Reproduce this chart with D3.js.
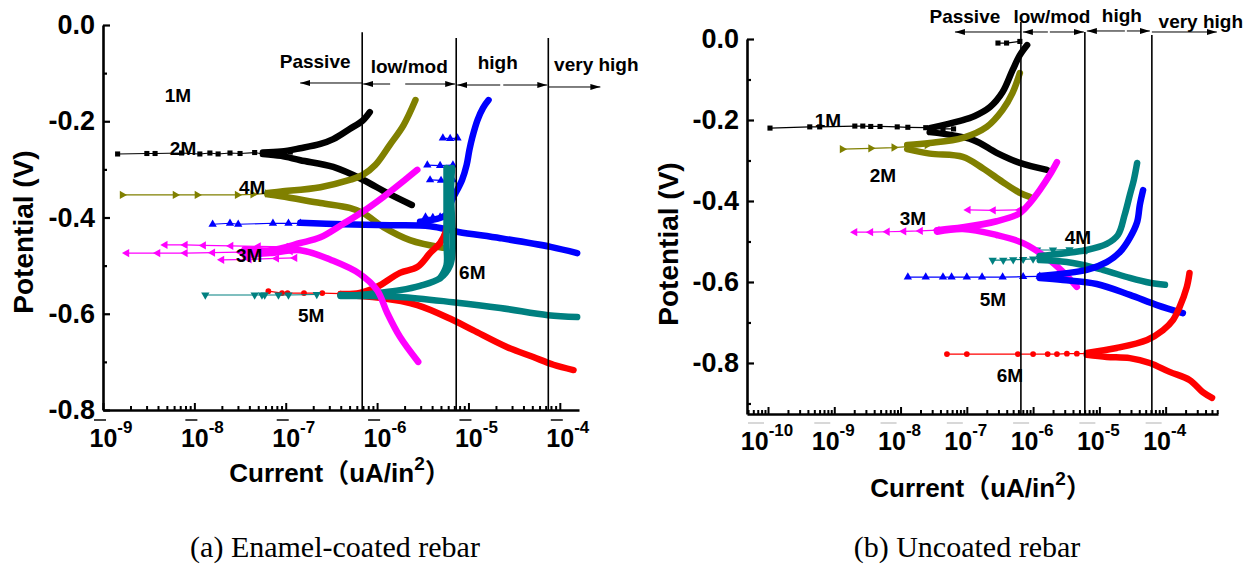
<!DOCTYPE html>
<html><head><meta charset="utf-8">
<script src="https://cdn.jsdelivr.net/npm/d3@7"></script>
<style>
html,body{margin:0;padding:0;background:#fff;}
svg{display:block;}
.sans{font-family:"Liberation Sans",Arial,"Noto Sans CJK SC",sans-serif;font-weight:bold;}
.serif{font-family:"Liberation Serif","Times New Roman",serif;}
</style></head><body>
<svg id="chart" width="1252" height="569"></svg>
<script>
// ---------- tick data ----------
const aTicksX = [-9,-8,-7,-6,-5,-4];          // decades (log10 current) panel a
const bTicksX = [-10,-9,-8,-7,-6,-5,-4];      // decades panel b
const yMajor = [0,-0.2,-0.4,-0.6,-0.8];
const yTickLabels = ["0.0","-0.2","-0.4","-0.6","-0.8"];
const yMinorA = [-0.1,-0.3,-0.5,-0.7];
const yMinorB = [-0.1,-0.3,-0.5,-0.7,-0.9];
const xTitleMain = "Current（uA/in";
const xTitleSup = "2";
const yTitle = "Potential (V)";
const captions = ["(a) Enamel-coated rebar","(b) Uncoated rebar"];

// ---------- series data: [log10 current (uA/in2), potential V] ----------
// Panel (a) enamel-coated
const aBlackSparse = [[-8.84,-0.268],[-8.52,-0.267],[-8.43,-0.267],[-8.14,-0.266],[-7.94,-0.268],[-7.83,-0.266],[-7.74,-0.268],[-7.61,-0.266],[-7.50,-0.267],[-7.34,-0.265],[-7.25,-0.268],[-7.17,-0.264],[-7.06,-0.266],[-6.95,-0.264]];
const aBlackAnodic = [[-7.25,-0.265],[-7.05,-0.263],[-6.84,-0.256],[-6.62,-0.247],[-6.48,-0.237],[-6.30,-0.216],[-6.16,-0.199],[-6.08,-0.181]];
const aBlackCathodic = [[-7.25,-0.268],[-7.05,-0.272],[-6.84,-0.281],[-6.48,-0.295],[-6.15,-0.322],[-5.89,-0.349],[-5.62,-0.374]];

const aOliveSparse = [[-8.79,-0.353],[-8.21,-0.353],[-7.97,-0.353],[-7.53,-0.353],[-7.36,-0.352],[-7.20,-0.350],[-7.05,-0.350]];
const aOliveAnodic = [[-7.20,-0.349],[-7.05,-0.346],[-6.62,-0.337],[-6.30,-0.322],[-6.16,-0.312],[-6.02,-0.291],[-5.86,-0.249],[-5.71,-0.208],[-5.58,-0.156]];
const aOliveCathodic = [[-7.20,-0.352],[-7.05,-0.356],[-6.62,-0.370],[-6.30,-0.380],[-6.15,-0.391],[-5.93,-0.420],[-5.64,-0.447],[-5.28,-0.463]];

const aBlueSparse = [[-7.80,-0.414],[-7.61,-0.412],[-7.52,-0.414],[-7.14,-0.412],[-6.97,-0.412],[-6.84,-0.412]];
const aBlueCathodic = [[-6.84,-0.411],[-6.37,-0.414],[-5.86,-0.416],[-5.42,-0.418],[-5.11,-0.430],[-4.65,-0.443],[-4.10,-0.461],[-3.81,-0.474]];
const aBlueAnodic = [[-5.53,-0.409],[-5.25,-0.395],[-5.18,-0.364],[-5.07,-0.322],[-5.02,-0.291],[-4.99,-0.260],[-4.96,-0.235],[-4.90,-0.197],[-4.84,-0.172],[-4.78,-0.156]];
const aBlueStreak1 = [[-5.28,-0.235],[-5.20,-0.236],[-5.12,-0.235]];
const aBlueStreak2 = [[-5.45,-0.291],[-5.31,-0.292],[-5.17,-0.291]];
const aBlueStreak3 = [[-5.42,-0.322],[-5.30,-0.323],[-5.17,-0.322]];
const aBlueStreak4 = [[-5.47,-0.399],[-5.39,-0.400],[-5.31,-0.399]];

const aMagentaSparse1 = [[-8.74,-0.474],[-8.40,-0.474],[-8.10,-0.474],[-7.80,-0.473],[-7.50,-0.472],[-7.20,-0.471],[-6.95,-0.470]];
const aMagentaSparse2 = [[-8.32,-0.457],[-8.10,-0.457],[-7.90,-0.458],[-7.60,-0.459],[-7.30,-0.460],[-7.00,-0.461]];
const aMagentaSparse3 = [[-7.70,-0.488],[-7.40,-0.487],[-7.10,-0.485],[-6.90,-0.484]];
const aMagentaAnodic = [[-7.45,-0.466],[-7.17,-0.468],[-6.84,-0.453],[-6.62,-0.441],[-6.37,-0.413],[-6.15,-0.387],[-5.93,-0.357],[-5.67,-0.318],[-5.56,-0.301]];
const aMagentaCathodic = [[-7.45,-0.478],[-7.17,-0.474],[-6.84,-0.468],[-6.48,-0.490],[-6.19,-0.517],[-6.00,-0.551],[-5.89,-0.598],[-5.75,-0.648],[-5.55,-0.700]];

const aRedSparse = [[-7.19,-0.553],[-7.04,-0.557],[-6.98,-0.557],[-6.80,-0.557],[-6.60,-0.557],[-6.40,-0.558]];
const aRedAnodic = [[-6.40,-0.559],[-6.19,-0.557],[-6.00,-0.544],[-5.75,-0.515],[-5.56,-0.503],[-5.42,-0.474],[-5.31,-0.453],[-5.25,-0.430],[-5.23,-0.409]];
const aRedCathodic = [[-6.40,-0.561],[-5.97,-0.567],[-5.56,-0.582],[-5.17,-0.613],[-4.95,-0.634],[-4.58,-0.669],[-4.29,-0.690],[-4.07,-0.706],[-3.85,-0.717]];

const aTealSparse = [[-7.88,-0.561],[-7.34,-0.561],[-7.26,-0.561],[-7.23,-0.561],[-7.08,-0.561],[-6.97,-0.561],[-6.66,-0.560]];
const aTealAnodic = [[-6.40,-0.561],[-6.19,-0.561],[-6.00,-0.557],[-5.75,-0.551],[-5.53,-0.542],[-5.31,-0.526],[-5.20,-0.499],[-5.17,-0.457],[-5.18,-0.405],[-5.19,-0.343],[-5.18,-0.297]];
const aTealAnodic2 = [[-5.31,-0.526],[-5.24,-0.499],[-5.24,-0.457],[-5.24,-0.405],[-5.24,-0.343],[-5.24,-0.297]];
const aTealCathodic = [[-6.40,-0.563],[-6.19,-0.563],[-5.75,-0.565],[-5.17,-0.576],[-4.65,-0.588],[-4.13,-0.603],[-3.81,-0.607]];

// Panel (b) uncoated
const bBlackSparse = [[-9.97,-0.220],[-9.37,-0.217],[-9.22,-0.217],[-8.69,-0.215],[-8.57,-0.215],[-8.45,-0.216],[-8.31,-0.216],[-8.05,-0.217],[-7.89,-0.218],[-7.62,-0.219],[-7.36,-0.222],[-7.20,-0.222]];
const bBlackTop = [[-6.53,-0.010],[-6.40,-0.010],[-6.20,-0.006]];
const bBlackAnodic = [[-7.56,-0.220],[-7.10,-0.202],[-6.88,-0.190],[-6.65,-0.168],[-6.46,-0.131],[-6.31,-0.077],[-6.20,-0.040],[-6.09,-0.015]];
const bBlackCathodic = [[-7.56,-0.230],[-6.91,-0.249],[-6.55,-0.281],[-6.20,-0.306],[-5.79,-0.323]];

const bOliveSparse = [[-8.88,-0.272],[-8.45,-0.270],[-8.10,-0.268],[-7.85,-0.265],[-7.60,-0.262]];
const bOliveAnodic = [[-7.90,-0.262],[-7.56,-0.257],[-7.06,-0.244],[-6.70,-0.217],[-6.46,-0.175],[-6.31,-0.133],[-6.20,-0.084]];
const bOliveCathodic = [[-7.90,-0.272],[-7.56,-0.283],[-7.06,-0.291],[-6.76,-0.319],[-6.46,-0.353],[-6.20,-0.380],[-6.05,-0.390]];

const bMagentaSparse = [[-8.69,-0.477],[-8.45,-0.477],[-8.20,-0.476],[-7.95,-0.475],[-7.70,-0.474],[-7.45,-0.472]];
const bMagentaStreak = [[-6.98,-0.422],[-6.60,-0.423],[-6.20,-0.422]];
const bMagentaAnodic = [[-7.45,-0.472],[-7.06,-0.465],[-6.55,-0.450],[-6.20,-0.430],[-6.05,-0.405],[-5.90,-0.373],[-5.75,-0.336],[-5.64,-0.304]];
const bMagentaCathodic = [[-7.45,-0.476],[-7.06,-0.469],[-6.55,-0.484],[-6.15,-0.504],[-5.79,-0.541],[-5.55,-0.575],[-5.34,-0.612]];

const bTealSparse = [[-6.61,-0.546],[-6.45,-0.546],[-6.30,-0.545],[-6.15,-0.544],[-6.00,-0.543],[-5.90,-0.541]];
const bTealStreak = [[-5.94,-0.521],[-5.70,-0.521],[-5.45,-0.520],[-5.19,-0.521]];
const bTealAnodic = [[-5.90,-0.536],[-5.19,-0.521],[-4.89,-0.506],[-4.72,-0.484],[-4.62,-0.435],[-4.54,-0.385],[-4.48,-0.348],[-4.43,-0.306]];
const bTealCathodic = [[-5.90,-0.546],[-5.40,-0.553],[-4.95,-0.570],[-4.54,-0.590],[-4.24,-0.602],[-4.01,-0.607]];

const bBlueSparse = [[-7.89,-0.588],[-7.62,-0.588],[-7.36,-0.588],[-7.23,-0.588],[-7.00,-0.588],[-6.77,-0.588],[-6.46,-0.588],[-6.15,-0.587],[-5.90,-0.586]];
const bBlueAnodic = [[-5.90,-0.585],[-5.19,-0.570],[-4.89,-0.551],[-4.69,-0.526],[-4.54,-0.491],[-4.43,-0.452],[-4.39,-0.410],[-4.34,-0.373]];
const bBlueCathodic = [[-5.90,-0.590],[-5.55,-0.595],[-5.04,-0.605],[-4.54,-0.632],[-4.13,-0.657],[-3.74,-0.677]];

const bRedSparse = [[-7.30,-0.778],[-7.00,-0.778],[-6.23,-0.778],[-6.00,-0.778],[-5.78,-0.778],[-5.64,-0.778],[-5.49,-0.777],[-5.34,-0.777],[-5.19,-0.777]];
const bRedAnodic = [[-5.19,-0.775],[-4.74,-0.763],[-4.28,-0.743],[-4.04,-0.719],[-3.89,-0.694],[-3.79,-0.662],[-3.68,-0.612],[-3.64,-0.578]];
const bRedCathodic = [[-5.19,-0.780],[-4.89,-0.785],[-4.54,-0.788],[-4.24,-0.800],[-3.94,-0.822],[-3.64,-0.842],[-3.44,-0.872],[-3.30,-0.886]];

// ---------- annotations (data units) ----------
const zoneNames = ["Passive","low/mod","high","very high"];
const aZoneLines = [-6.163,-5.134,-4.126];
const aZoneTops = [-0.015,-0.027,-0.027];
const aZoneLabelX = [-6.678,-5.648,-4.679,-3.600];
const aZoneLabelV = [-0.089,-0.100,-0.091,-0.096];
const aArrows = [[-6.163,-6.842,-0.1205],[-5.857,-6.152,-0.1226],[-5.692,-5.145,-0.1226],[-4.652,-5.123,-0.1247],[-4.619,-4.137,-0.1247],[-4.126,-3.556,-0.1288]];
const bZoneLines = [-6.184,-5.219,-4.208];
const bZoneTops = [0.042,0.017,0.010];
const bZoneLabelX = [-7.029,-5.716,-4.661,-3.469];
const bZoneLabelV = [0.0395,0.0395,0.042,0.027];
const bArrows = [[-6.184,-7.179,0.0173],[-5.777,-6.154,0.0173],[-5.747,-5.234,0.0173],[-4.615,-5.189,0.0198],[-4.585,-4.238,0.0198],[-4.208,-3.228,0.0173]];

const aLabels = ["1M","2M","4M","3M","5M","6M"];
const aLabelX = [-8.179,-8.124,-7.368,-7.401,-6.722,-4.958];
const aLabelV = [-0.1455,-0.2556,-0.3366,-0.4779,-0.6026,-0.5132];
const bLabels = ["1M","2M","3M","4M","5M","6M"];
const bLabelX = [-9.095,-8.265,-7.813,-5.324,-6.606,-6.350];
const bLabelV = [-0.200,-0.336,-0.444,-0.489,-0.644,-0.830];

// ---------- drawing ----------
const svg = d3.select('#chart');
svg.append('rect').attr('width',1252).attr('height',569).attr('fill','#fff');
svg.append('defs').append('marker').attr('id','ah')
  .attr('viewBox','0 0 10 6').attr('refX',10).attr('refY',3)
  .attr('markerWidth',10).attr('markerHeight',6).attr('markerUnits','userSpaceOnUse')
  .attr('orient','auto').append('path').attr('d','M0,0L10,3L0,6Z').attr('fill','#000');

const SYM = {
  square:{t:d3.symbolSquare,r:0,s:26}, up:{t:d3.symbolTriangle,r:0,s:30}, down:{t:d3.symbolTriangle,r:180,s:30},
  right:{t:d3.symbolTriangle,r:90,s:30}, left:{t:d3.symbolTriangle,r:-90,s:30}, circle:{t:d3.symbolCircle,r:0,s:26}
};

const panels = [
  {xDomain:[-9,-3.79], xRange:[103,579], yDomain:[0,-0.8], yRange:[25,410], yMinor:yMinorA, xTicks:aTicksX,
   xLabelShift:8, xLabelBase:447, artifact:'#444',
   yTitleX:33, yTitleY:232, xTitleX:340, xTitleY:482, capX:335,
   zoneLines:aZoneLines, zoneTops:aZoneTops, zoneLX:aZoneLabelX, zoneLV:aZoneLabelV, arrows:aArrows,
   labels:aLabels, labelX:aLabelX, labelV:aLabelV, caption:captions[0],
   series:[
     {c:'#000000', sym:'square', sparse:[aBlackSparse], dense:[aBlackAnodic,aBlackCathodic]},
     {c:'#808000', sym:'right', sparse:[aOliveSparse], dense:[aOliveAnodic,aOliveCathodic]},
     {c:'#0000ff', sym:'up', sparse:[aBlueSparse,aBlueStreak1,aBlueStreak2,aBlueStreak3,aBlueStreak4], dense:[aBlueCathodic,aBlueAnodic]},
     {c:'#ff0000', sym:'circle', sparse:[aRedSparse], dense:[aRedAnodic,aRedCathodic]},
     {c:'#008080', sym:'down', sparse:[aTealSparse], dense:[aTealAnodic,aTealAnodic2,aTealCathodic]},
     {c:'#ff00ff', sym:'left', sparse:[aMagentaSparse1,aMagentaSparse2,aMagentaSparse3], dense:[aMagentaAnodic,aMagentaCathodic]}
   ]},
  {xDomain:[-10.317,-3.21], xRange:[747,1218], yDomain:[0,-0.926], yRange:[39,414], yMinor:yMinorB, xTicks:bTicksX,
   xLabelShift:-1, xLabelBase:450, artifact:'#d8d8d8',
   yTitleX:678, yTitleY:244, xTitleX:981, xTitleY:497, capX:967,
   zoneLines:bZoneLines, zoneTops:bZoneTops, zoneLX:bZoneLabelX, zoneLV:bZoneLabelV, arrows:bArrows,
   labels:bLabels, labelX:bLabelX, labelV:bLabelV, caption:captions[1],
   series:[
     {c:'#000000', sym:'square', sparse:[bBlackSparse,bBlackTop], dense:[bBlackAnodic,bBlackCathodic]},
     {c:'#808000', sym:'right', sparse:[bOliveSparse], dense:[bOliveAnodic,bOliveCathodic]},
     {c:'#ff00ff', sym:'left', sparse:[bMagentaSparse,bMagentaStreak], dense:[bMagentaAnodic,bMagentaCathodic]},
     {c:'#008080', sym:'down', sparse:[bTealSparse,bTealStreak], dense:[bTealAnodic,bTealCathodic]},
     {c:'#0000ff', sym:'up', sparse:[bBlueSparse], dense:[bBlueAnodic,bBlueCathodic]},
     {c:'#ff0000', sym:'circle', sparse:[bRedSparse], dense:[bRedAnodic,bRedCathodic]}
   ]}
];

panels.forEach(p => {
  const x = d3.scaleLog().domain([Math.pow(10,p.xDomain[0]), Math.pow(10,p.xDomain[1])]).range(p.xRange);
  const y = d3.scaleLinear().domain(p.yDomain).range(p.yRange);
  const X = e => x(Math.pow(10,e));
  const g = svg.append('g');
  const thin = d3.line().x(d=>X(d[0])).y(d=>y(d[1]));
  const thick = d3.line().x(d=>X(d[0])).y(d=>y(d[1])).curve(d3.curveCatmullRom.alpha(0.5));

  // sparse lead-in segments with markers
  p.series.forEach(s => {
    const sy = SYM[s.sym];
    s.sparse.forEach(arr => {
      g.append('path').attr('d', thin(arr)).attr('fill','none').attr('stroke', s.c).attr('stroke-width',1.2);
      g.selectAll(null).data(arr).enter().append('path')
        .attr('d', d3.symbol(sy.t, sy.s)())
        .attr('transform', d => `translate(${X(d[0])},${y(d[1])}) rotate(${sy.r})`)
        .attr('fill', s.c);
    });
  });
  // dense marker bands
  p.series.forEach(s => {
    s.dense.forEach(arr => {
      g.append('path').attr('d', thick(arr)).attr('fill','none').attr('stroke', s.c)
        .attr('stroke-width',6.5).attr('stroke-linecap','round').attr('stroke-linejoin','round');
    });
  });

  // zone lines
  p.zoneLines.forEach((e,i) => {
    g.append('line').attr('x1',X(e)).attr('x2',X(e)).attr('y1',y(p.zoneTops[i])).attr('y2',y(p.yDomain[1]))
      .attr('stroke','#000').attr('stroke-width',1.6);
  });
  // arrows
  p.arrows.forEach(a => {
    g.append('line').attr('x1',X(a[0])).attr('x2',X(a[1])).attr('y1',y(a[2])).attr('y2',y(a[2]))
      .attr('stroke','#000').attr('stroke-width',1).attr('marker-end','url(#ah)');
  });
  // zone labels
  zoneNames.forEach((n,i) => {
    g.append('text').attr('class','sans').attr('x',X(p.zoneLX[i])).attr('y',y(p.zoneLV[i]))
      .attr('text-anchor','middle').attr('font-size',19).text(n);
  });
  // series labels
  p.labels.forEach((n,i) => {
    g.append('text').attr('class','sans').attr('x',X(p.labelX[i])).attr('y',y(p.labelV[i]))
      .attr('dy','0.35em').attr('text-anchor','middle').attr('font-size',19).text(n);
  });

  // y axis
  const ya = g.append('g').attr('transform',`translate(${p.xRange[0]},0)`)
    .call(d3.axisLeft(y).tickValues(yMajor).tickSize(-7).tickSizeOuter(0).tickPadding(8).tickFormat((d,i)=>yTickLabels[i]));
  ya.select('.domain').attr('stroke-width',2.6);
  ya.selectAll('.tick line').attr('stroke-width',2.2);
  ya.selectAll('text').attr('class','sans').attr('font-size',27).attr('fill','#000');
  const ym = g.append('g').attr('transform',`translate(${p.xRange[0]},0)`)
    .call(d3.axisLeft(y).tickValues(p.yMinor).tickSize(-4).tickSizeOuter(0).tickFormat(''));
  ym.select('.domain').remove();
  ym.selectAll('.tick line').attr('stroke-width',2.2);

  // x axis
  const xa = g.append('g').attr('transform',`translate(0,${p.yRange[1]})`)
    .call(d3.axisBottom(x).tickValues(p.xTicks.map(e=>Math.pow(10,e))).tickSize(-7).tickSizeOuter(0).tickFormat(''));
  xa.select('.domain').attr('stroke-width',2.6);
  xa.selectAll('.tick line').attr('stroke-width',2);
  const minor = [];
  for (let e = Math.floor(p.xDomain[0]); e < Math.ceil(p.xDomain[1]); e++) {
    for (let k = 2; k <= 9; k++) {
      const v = k*Math.pow(10,e);
      if (Math.log10(v) > p.xDomain[0] && Math.log10(v) < p.xDomain[1]) minor.push(v);
    }
  }
  const xm = g.append('g').attr('transform',`translate(0,${p.yRange[1]})`)
    .call(d3.axisBottom(x).tickValues(minor).tickSize(-4).tickSizeOuter(0).tickFormat(''));
  xm.select('.domain').remove();
  xm.selectAll('.tick line').attr('stroke-width',2);

  // x tick labels 10^n
  p.xTicks.forEach(e => {
    const cx = X(e);
    g.append('line').attr('x1',cx - (p.xLabelShift>0?9:20)).attr('x2',cx - (p.xLabelShift>0?-3:4))
      .attr('y1',p.xLabelBase-27).attr('y2',p.xLabelBase-27).attr('stroke',p.artifact).attr('stroke-width',2);
    const t = g.append('text').attr('class','sans').attr('x',cx + p.xLabelShift).attr('y',p.xLabelBase)
      .attr('text-anchor','middle').attr('font-size',25);
    t.append('tspan').text('10');
    t.append('tspan').attr('dy',-14).attr('font-size',17).text(String(e));
  });

  // axis titles
  g.append('text').attr('class','sans').attr('font-size',28).attr('text-anchor','middle')
    .attr('transform',`translate(${p.yTitleX},${p.yTitleY}) rotate(-90)`).text(yTitle);
  const xt = g.append('text').attr('class','sans').attr('font-size',26).attr('text-anchor','middle')
    .attr('x',p.xTitleX).attr('y',p.xTitleY);
  xt.append('tspan').text(xTitleMain);
  xt.append('tspan').attr('dy',-12).attr('font-size',19).text(xTitleSup);
  xt.append('tspan').attr('dy',12).text('）');

  // caption
  g.append('text').attr('class','serif').attr('font-size',30).attr('text-anchor','middle')
    .attr('x',p.capX).attr('y',557).text(p.caption);
});
</script>
</body></html>
